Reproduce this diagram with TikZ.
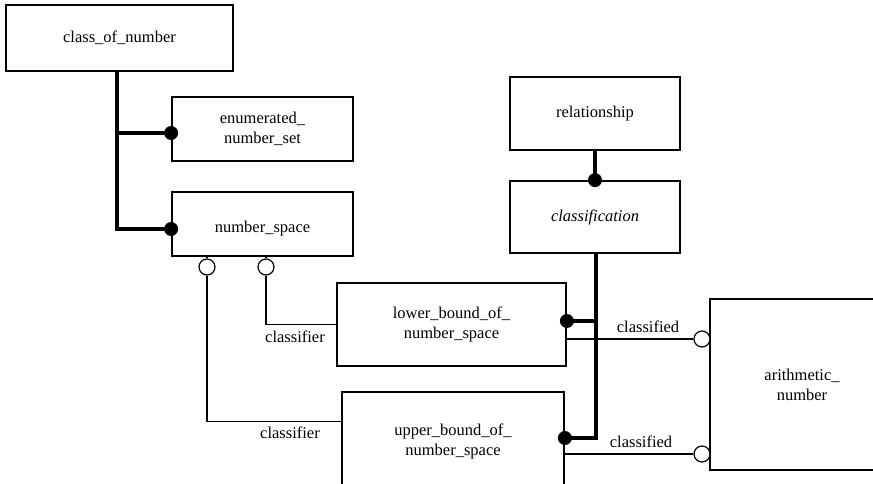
\documentclass[tikz,border=0pt]{standalone}
\usepackage{fontspec}
\setmainfont{Liberation Serif}
\usetikzlibrary{calc}
\begin{document}
\begin{tikzpicture}[x=1pt,y=-1pt,
  entity/.style={draw, line width=1.8pt, align=center,
    font=\fontsize{16.5}{20}\selectfont, inner sep=0pt},
  relline/.style={line width=3.4pt},
  link/.style={line width=1.2pt},
  dotend/.style={circle, fill=black, inner sep=0pt, minimum size=14pt},
  ringend/.style={circle, draw, line width=1.2pt, fill=white, inner sep=0pt, minimum size=16pt},
  lbl/.style={font=\fontsize{16.5}{20}\selectfont, inner sep=0pt}]
\useasboundingbox (0,0) rectangle (873,483);
\clip (0,0) rectangle (873,483);

% entities
\node[entity, minimum width=227, minimum height=66] (con) at (119.5,38) {class\_of\_number};
\node[entity, minimum width=181, minimum height=64] (ens) at (262.5,129) {enumerated\_\\number\_set};
\node[entity, minimum width=181, minimum height=64, text height=20pt, text depth=4pt] (ns) at (262.5,224) {number\_space};
\node[entity, minimum width=229, minimum height=83] (lb)  at (451.5,324.5) {lower\_bound\_of\_\\number\_space};
\node[entity, minimum width=222, minimum height=98] (ub)  at (453,441) {upper\_bound\_of\_\\number\_space};
\node[entity, minimum width=170, minimum height=73] (rel) at (595,113.5) {relationship};
\node[entity, minimum width=170, minimum height=72] (cls) at (595,217) {\itshape classification};
\node[entity, minimum width=184, minimum height=171] (an) at (802,384.5) {arithmetic\_\\number};

% subtype tree of class_of_number
\coordinate (j1) at (117,133);
\coordinate (j2) at (117,229);
\draw[relline] (con.south -| j1) -- (j2) -- (ns.west |- j2);
\draw[relline] (j1) -- (ens.west |- j1);
\node[dotend] (d1) at (ens.west |- j1) {};
\node[dotend] (d2) at (ns.west |- j2) {};

% relationship / classification
\draw[relline] (rel.south) -- (cls.north);
\node[dotend] (d3) at (cls.north) {};
\coordinate (k1) at (596,321);
\coordinate (k2) at (596,438);
\draw[relline] (cls.south -| k1) -- (k2) -- (ub.east |- k2);
\draw[relline] (k1) -- (lb.east |- k1);
\node[dotend] (d4) at (lb.east |- k1) {};
\node[dotend] (d5) at (ub.east |- k2) {};

% classifier roles
\node[ringend] (r1) at (207,267) {};
\node[ringend] (r2) at (266,267) {};
\draw[link] (ns.south -| r1) -- (r1.north);
\draw[link] (ns.south -| r2) -- (r2.north);
\draw[link] (r2.south) |- (lb.west);
\draw[link] (r1.south) |- ($(ub.north west)+(0,30)$);
\node[lbl] (c1) at (295,337) {classifier};
\node[lbl] (c2) at (290,433) {classifier};

% classified roles
\node[ringend] (r3) at (702,339) {};
\node[ringend] (r4) at (702,454) {};
\draw[link] (lb.east |- r3) -- (r3.west);
\draw[link] (ub.east |- r4) -- (r4.west);
\node[lbl] (c3) at (648,327) {classified};
\node[lbl] (c4) at (641,442) {classified};
\end{tikzpicture}
\end{document}
